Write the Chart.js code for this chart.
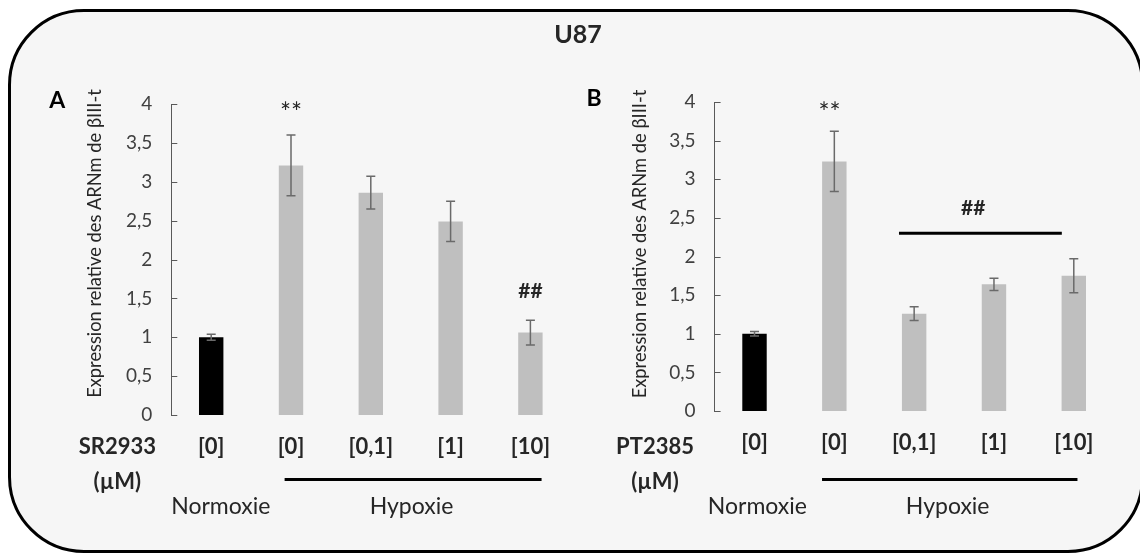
<!DOCTYPE html>
<html><head><meta charset="utf-8">
<script src="https://cdn.jsdelivr.net/npm/chart.js@4.4.1/dist/chart.umd.min.js"></script>
<style>
html,body{margin:0;padding:0;background:#fff;width:1140px;height:553px;overflow:hidden;}
#frame{position:absolute;left:8px;top:9px;width:1136px;height:544px;box-sizing:border-box;border:3px solid #000;border-radius:76px;background:#f6f6f6;}
canvas{position:absolute;left:0;top:0;}
</style></head><body>
<div id="frame"></div>
<canvas id="cA" width="1140" height="553"></canvas>
<canvas id="cB" width="1140" height="553"></canvas>
<script>
// ---- data ----
const categories = ['[0]', '[0]', '[0,1]', '[1]', '[10]'];
const valuesA = [1.00, 3.21, 2.86, 2.49, 1.06];
const errorsA = [0.04, 0.39, 0.21, 0.26, 0.16];
const valuesB = [1.00, 3.23, 1.26, 1.64, 1.75];
const errorsB = [0.03, 0.39, 0.09, 0.08, 0.22];
const barColors = ['#000000', '#bfbfbf', '#bfbfbf', '#bfbfbf', '#bfbfbf'];
const yMin = 0, yMax = 4, yStep = 0.5;
const yTitle = 'Expression relative des ARNm de βIII-t';
const groupLabels = ['Normoxie', 'Hypoxie'];
const drugA = 'SR2933', drugB = 'PT2385', unitLabel = '(µM)';
const mainTitle = 'U87';

const FONT = 'Lato, "Open Sans", sans-serif';
Chart.defaults.font.family = FONT;

const panelPlugin = {
  id: 'panel',
  afterDatasetsDraw(chart, args, o) {
    const ctx = chart.ctx, xs = chart.scales.x, ys = chart.scales.y;
    const ca = chart.chartArea;
    const meta = chart.getDatasetMeta(0);
    const vals = chart.data.datasets[0].data;
    ctx.save();
    // error bars
    ctx.strokeStyle = '#6a6a6a'; ctx.lineWidth = 1.5;
    meta.data.forEach((bar, i) => {
      const yt = ys.getPixelForValue(vals[i] + o.errors[i]);
      const yb = ys.getPixelForValue(vals[i] - o.errors[i]);
      ctx.beginPath();
      ctx.moveTo(bar.x, yt); ctx.lineTo(bar.x, yb);
      ctx.moveTo(bar.x - 4.5, yt); ctx.lineTo(bar.x + 4.5, yt);
      ctx.moveTo(bar.x - 4.5, yb); ctx.lineTo(bar.x + 4.5, yb);
      ctx.stroke();
    });
    // inside tick marks
    ctx.strokeStyle = '#595959'; ctx.lineWidth = 1;
    ys.ticks.forEach(t => {
      const y = Math.round(ys.getPixelForValue(t.value)) + 0.5;
      ctx.beginPath(); ctx.moveTo(ca.left, y); ctx.lineTo(ca.left + 6, y); ctx.stroke();
    });
    ctx.textAlign = 'center'; ctx.textBaseline = 'middle';
    // annotations
    o.marks.forEach(m => {
      ctx.font = m.font; ctx.fillStyle = '#262626';
      ctx.fillText(m.text, xs.getPixelForValue(m.index), ys.getPixelForValue(m.value));
    });
    if (o.sigLine) {
      const y = ys.getPixelForValue(o.sigLine.value);
      ctx.strokeStyle = '#000'; ctx.lineWidth = 3;
      ctx.beginPath();
      ctx.moveTo(xs.getPixelForValue(o.sigLine.from), y);
      ctx.lineTo(xs.getPixelForValue(o.sigLine.to), y);
      ctx.stroke();
    }
    // y title
    ctx.save();
    ctx.translate(ca.left + o.titleDx, (ca.top + ca.bottom) / 2 + o.titleDy);
    ctx.rotate(-Math.PI / 2);
    ctx.font = '18.3px ' + FONT; ctx.fillStyle = '#262626';
    ctx.fillText(yTitle, 0, 0);
    ctx.restore();
    // panel letter
    ctx.font = 'bold 23px ' + FONT; ctx.fillStyle = '#000';
    ctx.fillText(o.letter, ca.left + o.letterDx, o.letterY);
    // drug label
    ctx.font = 'bold 22px ' + FONT; ctx.fillStyle = '#262626';
    ctx.fillText(o.drug, ca.left + o.drugDx, 447);
    ctx.fillText(unitLabel, ca.left + o.drugDx, 482);
    // hypoxia line
    ctx.strokeStyle = '#000'; ctx.lineWidth = 3;
    ctx.beginPath();
    ctx.moveTo(xs.getPixelForValue(o.hypLine[0]), 479.5);
    ctx.lineTo(xs.getPixelForValue(o.hypLine[1]), 479.5);
    ctx.stroke();
    ctx.font = '23px ' + FONT; ctx.fillStyle = '#262626';
    ctx.fillText(groupLabels[0], xs.getPixelForValue(o.normX), 507);
    ctx.fillText(groupLabels[1], xs.getPixelForValue(o.hypX), 507);
    if (o.mainTitle) {
      ctx.font = 'bold 25px ' + FONT; ctx.fillStyle = '#262626';
      ctx.fillText(mainTitle, 578, 35);
    }
    ctx.restore();
  }
};

function makeChart(id, values, pad, panelOpts) {
  return new Chart(document.getElementById(id), {
    type: 'bar',
    data: {
      labels: categories,
      datasets: [{ data: values, backgroundColor: barColors, borderWidth: 0,
        categoryPercentage: 1, barPercentage: 0.306 }]
    },
    options: {
      responsive: false, animation: false, devicePixelRatio: 1,
      layout: { padding: pad },
      plugins: { legend: { display: false }, tooltip: { enabled: false }, panel: panelOpts },
      scales: {
        x: {
          grid: { display: false, drawTicks: false },
          border: { display: false },
          ticks: { font: { size: 22, weight: 'bold' }, color: '#262626', padding: 19 },
          afterFit: s => { s.height = 60; }
        },
        y: {
          min: yMin, max: yMax,
          grid: { display: false, drawTicks: false },
          border: { display: true, color: '#595959', width: 1 },
          ticks: { stepSize: yStep, font: { size: 19 }, color: '#404040', padding: 19,
            callback: v => String(v).replace('.', ',') },
          afterFit: s => { s.width = 100; }
        }
      }
    },
    plugins: [panelPlugin]
  });
}

makeChart('cA', valuesA, { left: 71.3, top: 104, right: 569.7, bottom: 78 }, {
  errors: errorsA, letter: 'A', letterDx: -114, letterY: 100.5, drug: drugA, drugDx: -54,
  titleDx: -76, titleDy: -16, hypLine: [0.92, 4.14], normX: 0.12, hypX: 2.51,
  marks: [{ text: '**', index: 1, value: 3.88, font: '26px ' + FONT },
          { text: '##', index: 4, value: 1.59, font: 'bold 21px ' + FONT }],
  mainTitle: true
});
makeChart('cB', valuesB, { left: 614.6, top: 102, right: 26.3, bottom: 82 }, {
  errors: errorsB, letter: 'B', letterDx: -120.6, letterY: 99, drug: drugB, drugDx: -59.6,
  titleDx: -74, titleDy: -12.5, hypLine: [0.846, 4.046], normX: 0.036, hypX: 2.42,
  marks: [{ text: '**', index: 0.94, value: 3.85, font: '26px ' + FONT },
          { text: '##', index: 2.74, value: 2.62, font: 'bold 21px ' + FONT }],
  sigLine: { from: 1.81, to: 3.85, value: 2.30 }
});
</script>
</body></html>
